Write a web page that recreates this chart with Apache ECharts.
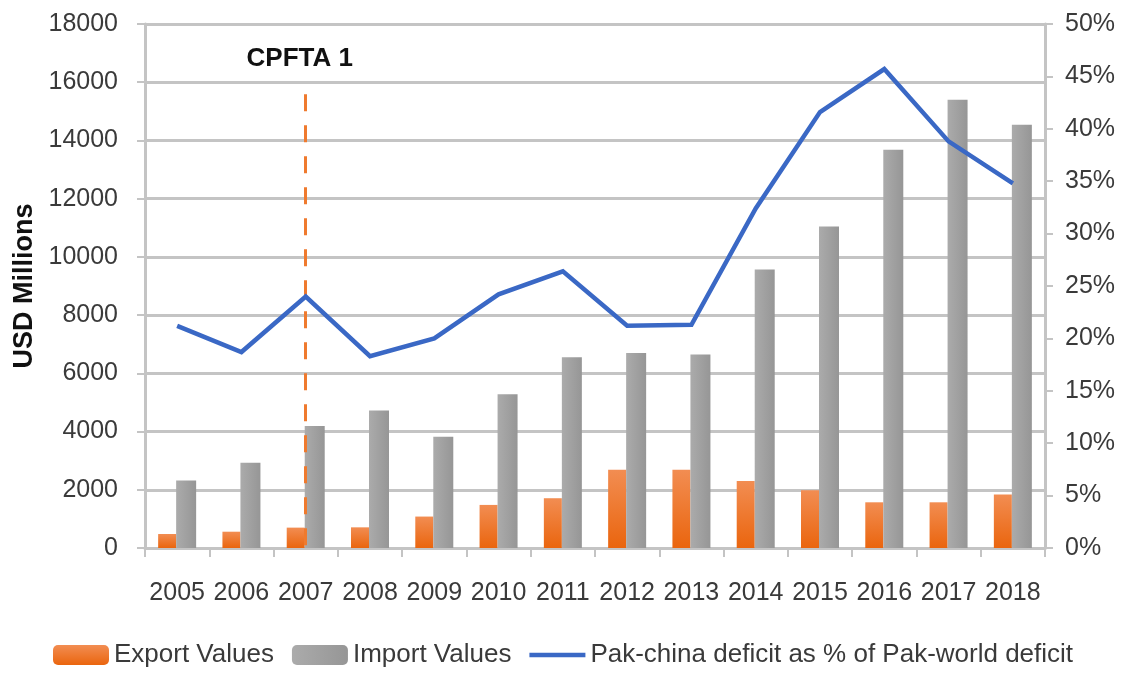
<!DOCTYPE html>
<html>
<head>
<meta charset="utf-8">
<script src="https://cdn.jsdelivr.net/npm/echarts@6/dist/echarts.min.js"></script>
<style>
  html, body { margin: 0; padding: 0; background: #fff; }
  #chart { width: 1127px; height: 677px; }
</style>
</head>
<body>
<div id="chart"></div>
<script>
const years = ['2005', '2006', '2007', '2008', '2009', '2010', '2011', '2012', '2013', '2014', '2015', '2016', '2017', '2018'];
const exportValues = [480, 560, 700, 710, 1080, 1480, 1710, 2690, 2690, 2300, 1980, 1570, 1570, 1840];
const importValues = [2320, 2930, 4190, 4720, 3820, 5280, 6550, 6700, 6650, 9570, 11040, 13680, 15400, 14540];
const deficitShare = [21.2, 18.7, 24.0, 18.3, 20.0, 24.2, 26.4, 21.2, 21.3, 32.4, 41.6, 45.7, 38.8, 34.8];
const leftTicks = { min: 0, max: 18000, interval: 2000 };
const rightTicks = { min: 0, max: 50, interval: 5 };
const eventYear = '2007';
const eventLabel = 'CPFTA 1';
const eventTop = 43.3; // top of the dashed marker, on the % axis

const font = '"Liberation Sans", Arial, sans-serif';
const textColor = '#3a3a3a';
const gridColor = '#c4c4c4';

const chart = echarts.init(document.getElementById('chart'));

const option = {
  backgroundColor: '#fff',
  animation: false,
  textStyle: { fontFamily: font },
  grid: { left: 145, right: 82, top: 24, bottom: 129 },
  legend: {
    left: 48,
    bottom: 4,
    itemWidth: 56,
    itemHeight: 20,
    itemGap: 18,
    textStyle: { fontSize: 26, color: textColor, fontFamily: font },
    data: [
      'Export Values',
      'Import Values',
      { name: 'Pak-china deficit as % of Pak-world deficit', icon: 'path://M0,0H56V4.5H0Z' }
    ]
  },
  xAxis: {
    type: 'category',
    data: years,
    axisLine: { lineStyle: { color: gridColor, width: 3 } },
    axisTick: { show: true, length: 9, lineStyle: { color: gridColor, width: 2 } },
    axisLabel: { interval: 0, fontSize: 25, color: textColor, margin: 33, fontFamily: font }
  },
  yAxis: [
    {
      type: 'value',
      min: leftTicks.min,
      max: leftTicks.max,
      interval: leftTicks.interval,
      name: 'USD Millions',
      nameLocation: 'middle',
      nameGap: 102,
      nameRotate: 90,
      nameTextStyle: { fontSize: 27, fontWeight: 'bold', color: '#111', fontFamily: font },
      axisLine: { show: true, lineStyle: { color: gridColor, width: 3 } },
      axisTick: { show: true, length: 8, lineStyle: { color: gridColor, width: 2 } },
      axisLabel: { fontSize: 25, color: textColor, margin: 27, fontFamily: font, formatter: v => String(v) },
      splitLine: { show: true, lineStyle: { color: gridColor, width: 3 } }
    },
    {
      type: 'value',
      min: rightTicks.min,
      max: rightTicks.max,
      interval: rightTicks.interval,
      position: 'right',
      axisLine: { show: true, lineStyle: { color: gridColor, width: 3 } },
      axisTick: { show: true, length: 8, lineStyle: { color: gridColor, width: 2 } },
      axisLabel: { fontSize: 25, color: textColor, margin: 20, fontFamily: font, formatter: '{value}%' },
      splitLine: { show: false }
    }
  ],
  series: [
    {
      name: 'Export Values',
      type: 'bar',
      data: exportValues,
      barWidth: 18,
      barGap: '0%',
      itemStyle: {
        color: new echarts.graphic.LinearGradient(0, 0, 0, 1, [
          { offset: 0, color: '#f28d52' },
          { offset: 1, color: '#ea650e' }
        ])
      }
    },
    {
      name: 'Import Values',
      type: 'bar',
      data: importValues,
      barWidth: 20,
      itemStyle: {
        color: new echarts.graphic.LinearGradient(0, 0, 1, 0, [
          { offset: 0, color: '#ababab' },
          { offset: 1, color: '#969696' }
        ])
      }
    },
    {
      name: 'Pak-china deficit as % of Pak-world deficit',
      type: 'line',
      yAxisIndex: 1,
      data: deficitShare,
      symbol: 'none',
      showSymbol: false,
      lineStyle: { color: '#3a68c5', width: 4.5, join: 'miter' },
      itemStyle: { color: '#3a68c5' },
      z: 5,
      // dashed CPFTA marker sits on the category centre, so hang it on this series
      markLine: {
        silent: true,
        symbol: ['none', 'none'],
        lineStyle: { color: '#ef7a2e', width: 3, type: [17, 14] },
        label: {
          show: true,
          position: 'start',
          distance: 22,
          offset: [-6, 0],
          formatter: eventLabel,
          fontSize: 26,
          fontWeight: 'bold',
          color: '#111',
          fontFamily: font
        },
        data: [[{ coord: [eventYear, eventTop] }, { coord: [eventYear, 0] }]]
      }
    }
  ]
};

chart.setOption(option);
</script>
</body>
</html>
